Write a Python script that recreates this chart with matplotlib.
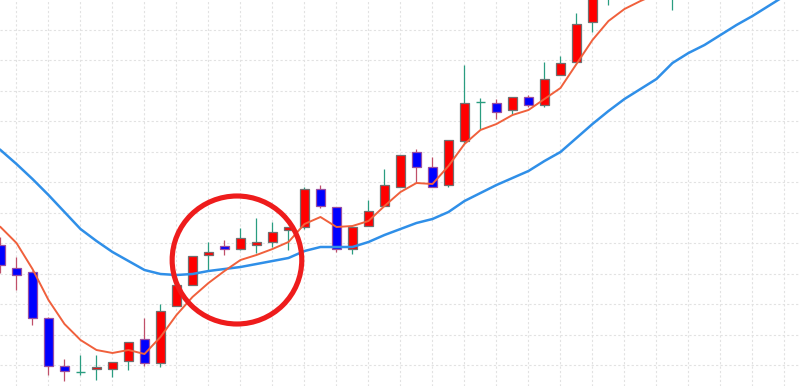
import matplotlib
matplotlib.use("Agg")
import matplotlib.pyplot as plt
from matplotlib.patches import Ellipse

UP = "#FF0000"; UP_EDGE = "#707070"; UP_WICK = "#2A9D80"
DN = "#0000FF"; DN_EDGE = "#9A4FA0"; DN_WICK = "#C0506A"
MA_FAST_C = "#F0603C"; MA_SLOW_C = "#2F8FE8"
GRID = "#E2E2E2"

# OHLC per bar (bars 39-42 run past the top of the view)
opens  = [141, 118, 114, 68, 20, 14, 17, 17, 25, 47, 23, 80, 101, 131, 140, 137, 141, 144, 156, 159,
          197, 179, 137, 160, 180, 199, 234, 219, 201, 245, 284, 283, 276, 289, 281, 311, 324, 364, 391, 411,
          431, 416, 391]
highs  = [149, 129, 115, 69, 27, 31, 31, 24, 44, 68, 82, 101, 130, 144, 146, 158, 168, 164, 159, 199,
          201, 179, 159, 186, 217, 231, 237, 229, 246, 321, 288, 287, 289, 291, 324, 330, 373, 396, 416, 436,
          441, 446, 426]
lows   = [113, 96, 61, 11, 5, 11, 6, 9, 16, 20, 19, 80, 101, 116, 131, 136, 133, 139, 136, 157,
          178, 134, 132, 160, 180, 199, 203, 199, 199, 243, 257, 267, 271, 279, 279, 311, 324, 354, 381, 401,
          406, 411, 376]
closes = [121, 111, 68, 20, 15, 14.5, 19, 24, 44, 23, 75, 101, 130, 134, 137, 148, 144, 154, 159, 197,
          180, 137, 159, 175, 201, 231, 219, 199, 246, 283, 284, 274, 289, 281, 307, 323, 362, 394, 411, 431,
          416, 436, 416]

# moving averages, one value per bar
ma_fast = [159, 143, 117, 86, 62, 46, 36, 33, 36, 32, 49, 71, 89, 103, 115, 126, 131, 137, 144, 162,
           169, 159, 160, 165, 180, 194, 203, 202, 220, 242, 256, 262, 271, 276, 287, 298, 322, 346, 365, 377,
           385, 392]
ma_slow = [236, 222, 207, 191, 174, 157, 145, 134, 125, 116, 112, 111, 112, 115, 117, 119, 122, 125, 128, 135,
           139, 139, 139, 144, 151, 157, 163, 167, 174, 185, 193, 201, 208, 215, 225, 234, 248, 262, 275, 287,
           297, 307, 323, 333, 341, 351, 361, 370, 380, 390]

fig = plt.figure(figsize=(8, 3.86), dpi=100)
ax = fig.add_axes([0, 0, 1, 1])
ax.set_xlim(-0.03, 49.97); ax.set_ylim(0, 386)

# dotted grid
ax.set_xticks(range(1, 50, 2))
ax.set_yticks([356.5 - 30.5 * k for k in range(12)])
ax.grid(True, color=GRID, linestyle=(0, (2, 2)), lw=0.8, zorder=0)
ax.tick_params(length=0, labelbottom=False, labelleft=False)
for s in ax.spines.values():
    s.set_visible(False)

# candles
for i, (o, h, l, c) in enumerate(zip(opens, highs, lows, closes)):
    up = c >= o
    ax.vlines(i, l, h, color=UP_WICK if up else DN_WICK, lw=0.9, zorder=2)
    if abs(c - o) < 1:
        ax.hlines(o, i - 0.31, i + 0.31, color=UP_WICK if up else DN_WICK, lw=1.0, zorder=3)
    else:
        ax.bar(i, abs(c - o), bottom=min(o, c), width=0.62,
               color=UP if up else DN, edgecolor=UP_EDGE if up else DN_EDGE, lw=0.9, zorder=3)

ax.plot(range(len(ma_slow)), ma_slow, color=MA_SLOW_C, lw=1.8, zorder=4)
ax.plot(range(len(ma_fast)), ma_fast, color=MA_FAST_C, lw=1.4, zorder=4)

# highlight ring
ax.add_patch(Ellipse((14.78, 126), 8.1, 128, fill=False, ec="#EE1C1C", lw=3.7, zorder=5))

fig.savefig("out.png", dpi=100, facecolor="white")
